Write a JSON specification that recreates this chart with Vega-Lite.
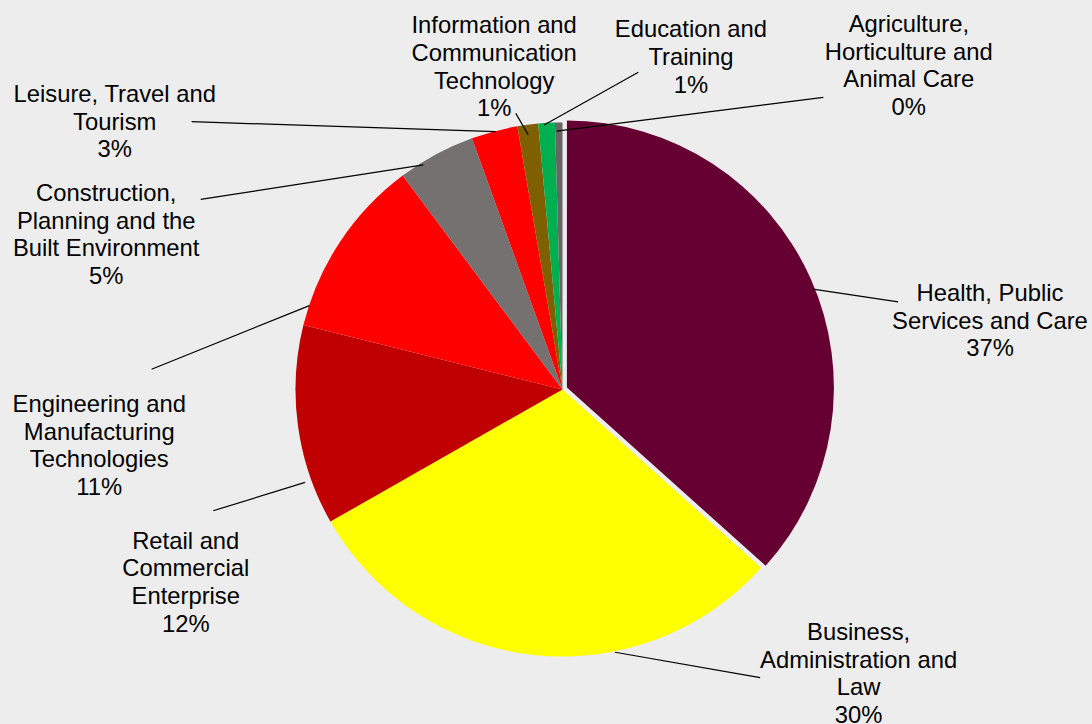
{
  "$schema": "https://vega.github.io/schema/vega-lite/v6.json",
  "width": 1092,
  "height": 724,
  "autosize": {"type": "none"},
  "padding": 0,
  "background": "#ededed",
  "config": {"view": {"stroke": null}},
  "data": {
    "values": [
      {"name": "Health, Public\nServices and Care", "value": 36.6, "lx": 160.1, "ly": 33.1, "sx": 93.8, "sy": 37.6, "ex": 125.7, "ey": 32.8},
      {"name": "Business,\nAdministration and\nLaw", "value": 30.1, "lx": 110.9, "ly": -93.8, "sx": 19.7, "sy": -98.4, "ex": 74.0, "ey": -107.9},
      {"name": "Retail and\nCommercial\nEnterprise", "value": 12.1, "lx": -141.1, "ly": -59.7, "sx": -96.4, "sy": -34.8, "ex": -130.8, "ey": -45.4},
      {"name": "Engineering and\nManufacturing\nTechnologies", "value": 10.9, "lx": -173.5, "ly": -8.5, "sx": -94.8, "sy": 31.4, "ex": -153.9, "ey": 7.6},
      {"name": "Construction,\nPlanning and the\nBuilt Environment", "value": 4.7, "lx": -170.9, "ly": 70.6, "sx": -52.1, "sy": 84.1, "ex": -135.5, "ey": 71.2},
      {"name": "Leisure, Travel and\nTourism", "value": 2.8, "lx": -167.7, "ly": 107.6, "sx": -25.0, "sy": 96.6, "ex": -138.9, "ey": 100.3},
      {"name": "Information and\nCommunication\nTechnology", "value": 1.25, "lx": -25.6, "ly": 133.4, "sx": -12.8, "sy": 95.3, "ex": -17.5, "ey": 103.4},
      {"name": "Education and\nTraining", "value": 1.0, "lx": 48.1, "ly": 131.9, "sx": -6.9, "sy": 99.1, "ex": 28.4, "ey": 118.8},
      {"name": "Agriculture,\nHorticulture and\nAnimal Care", "value": 0.45, "lx": 129.7, "ly": 133.8, "sx": -2.2, "sy": 96.8, "ex": 97.7, "ey": 109.4}
    ]
  },
  "transform": [
    {"window": [{"op": "row_number", "as": "idx"}]},
    {"joinaggregate": [{"op": "sum", "field": "value", "as": "total"}]},
    {"calculate": "datum.name + '\\n' + format(datum.value / datum.total, '.0%')", "as": "label"}
  ],
  "layer": [
    {
      "mark": {"type": "arc", "outerRadius": 267},
      "encoding": {
        "theta": {"field": "value", "type": "quantitative", "stack": true},
        "order": {"field": "idx", "type": "quantitative"},
        "x": {"datum": 0, "type": "quantitative", "scale": {"domain": [-210.67, 198.31], "nice": false, "zero": false}, "axis": null},
        "y": {"datum": 0, "type": "quantitative", "scale": {"domain": [-125.28, 145.88], "nice": false, "zero": false}, "axis": null},
        "color": {
          "field": "name", "type": "nominal", "legend": null,
          "scale": {
            "domain": ["Health, Public\nServices and Care", "Business,\nAdministration and\nLaw", "Retail and\nCommercial\nEnterprise", "Engineering and\nManufacturing\nTechnologies", "Construction,\nPlanning and the\nBuilt Environment", "Leisure, Travel and\nTourism", "Information and\nCommunication\nTechnology", "Education and\nTraining", "Agriculture,\nHorticulture and\nAnimal Care"],
            "range": ["#660033", "#ffff00", "#c00000", "#ff0000", "#767171", "#ff0000", "#7f6000", "#00b050", "#666666"]
          }
        },
        "opacity": {"condition": {"test": "datum.idx === 1", "value": 0}, "value": 1}
      }
    },
    {
      "mark": {"type": "arc", "outerRadius": 267},
      "encoding": {
        "theta": {"field": "value", "type": "quantitative", "stack": true},
        "order": {"field": "idx", "type": "quantitative"},
        "x": {"datum": 1.65, "type": "quantitative", "scale": {"domain": [-210.67, 198.31], "nice": false, "zero": false}, "axis": null},
        "y": {"datum": 0.73, "type": "quantitative", "scale": {"domain": [-125.28, 145.88], "nice": false, "zero": false}, "axis": null},
        "color": {"field": "name", "type": "nominal", "legend": null},
        "opacity": {"condition": {"test": "datum.idx === 1", "value": 1}, "value": 0}
      }
    },
    {
      "mark": {"type": "rule", "color": "#000000", "strokeWidth": 1.2},
      "encoding": {
        "x": {"field": "sx", "type": "quantitative", "scale": {"domain": [-210.67, 198.31], "nice": false, "zero": false}, "axis": null},
        "y": {"field": "sy", "type": "quantitative", "scale": {"domain": [-125.28, 145.88], "nice": false, "zero": false}, "axis": null},
        "x2": {"field": "ex"},
        "y2": {"field": "ey"}
      }
    },
    {
      "mark": {"type": "text", "font": "Liberation Sans", "fontSize": 23.8, "lineHeight": 27.6, "lineBreak": "\n", "align": "center", "baseline": "alphabetic", "color": "#000000"},
      "encoding": {
        "x": {"field": "lx", "type": "quantitative", "scale": {"domain": [-210.67, 198.31], "nice": false, "zero": false}, "axis": null},
        "y": {"field": "ly", "type": "quantitative", "scale": {"domain": [-125.28, 145.88], "nice": false, "zero": false}, "axis": null},
        "text": {"field": "label"}
      }
    }
  ]
}
